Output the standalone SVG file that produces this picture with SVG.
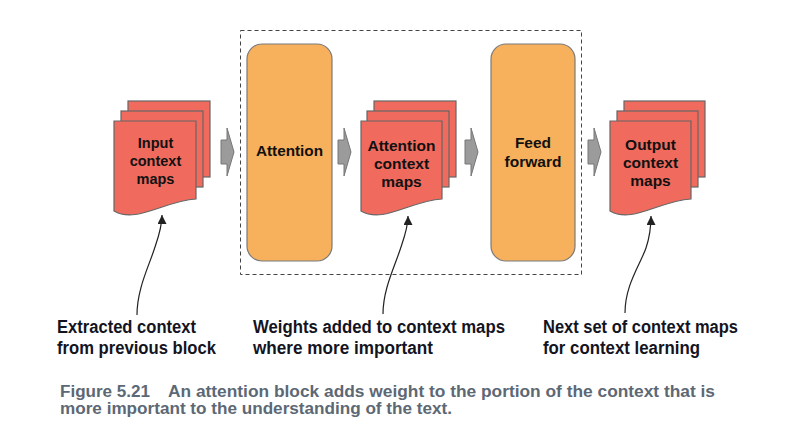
<svg xmlns="http://www.w3.org/2000/svg" width="803" height="426" viewBox="0 0 803 426">
  <style>
    .sheet { fill: #f06b5e; stroke: #666666; stroke-width: 1.2; }
    .block { fill: #f7b05b; stroke: #7a7a7a; stroke-width: 1.2; }
    .flow { fill: #9b9b9b; stroke: #777777; stroke-width: 1; }
    .node-text { font-family: "Liberation Sans", Arial, sans-serif; font-weight: bold; fill: #111111; text-anchor: middle; }
    .label { font-family: "Liberation Sans", Arial, sans-serif; font-weight: bold; font-size: 17.5px; fill: #14141f; }
    .caption { font-family: "Liberation Sans", Arial, sans-serif; font-weight: bold; font-size: 16px; fill: #5d6875; }
    .pointer { fill: none; stroke: #222222; stroke-width: 1.2; }
  </style>
  <defs>
    <marker id="head" viewBox="0 0 10 10" refX="10" refY="5" markerWidth="9" markerHeight="9" markerUnits="userSpaceOnUse" orient="auto">
      <path d="M0,0 L10,5 L0,10 Z" fill="#222222"/>
    </marker>
  </defs>
  <rect width="803" height="426" fill="#ffffff"/>

  <!-- dashed container -->
  <rect id="block-container" x="240.5" y="30.5" width="341" height="244" fill="none" stroke="#444444" stroke-width="1" stroke-dasharray="4,3"/>

  <g id="input-maps">
    <rect class="sheet" x="128" y="101" width="82" height="76"/>
    <rect class="sheet" x="121" y="111" width="82" height="76"/>
    <path class="sheet" d="M114,121 H196 V199 C164,201 136,224 114,211 Z"/>
    <text class="node-text" font-size="14.5" x="155.5" y="148">Input</text>
    <text class="node-text" font-size="14.5" x="155.5" y="166">context</text>
    <text class="node-text" font-size="14.5" x="155.5" y="184">maps</text>
  </g>

  <g id="attention">
    <rect class="block" x="247" y="44" width="85" height="217" rx="15" ry="15"/>
    <text class="node-text" font-size="15.3" x="289.5" y="156">Attention</text>
  </g>

  <g id="attention-maps">
    <rect class="sheet" x="374" y="101" width="82" height="76"/>
    <rect class="sheet" x="367" y="111" width="82" height="76"/>
    <path class="sheet" d="M361,121 H442 V199 C410,201 383,224 361,211 Z"/>
    <text class="node-text" font-size="15.5" x="401.5" y="151">Attention</text>
    <text class="node-text" font-size="15.5" x="401.5" y="169">context</text>
    <text class="node-text" font-size="15.5" x="401.5" y="187">maps</text>
  </g>

  <g id="feed-forward">
    <rect class="block" x="491" y="44" width="84" height="217" rx="15" ry="15"/>
    <text class="node-text" font-size="15.5" x="533" y="148">Feed</text>
    <text class="node-text" font-size="15.5" x="533" y="167">forward</text>
  </g>

  <g id="output-maps">
    <rect class="sheet" x="624" y="101" width="81" height="76"/>
    <rect class="sheet" x="617" y="111" width="81" height="76"/>
    <path class="sheet" d="M610,121 H691 V199 C659,201 632,224 610,211 Z"/>
    <text class="node-text" font-size="15.5" x="650.5" y="150">Output</text>
    <text class="node-text" font-size="15.5" x="650.5" y="168">context</text>
    <text class="node-text" font-size="15.5" x="650.5" y="186">maps</text>
  </g>

  <g id="connectors">
    <path class="flow" d="M221,140 H227 V128 L234,152 L227,176 V164 H221 Z"/>
    <path class="flow" d="M338,140 H344 V128 L351,152 L344,176 V164 H338 Z"/>
    <path class="flow" d="M465,140 H471 V128 L478,152 L471,176 V164 H465 Z"/>
    <path class="flow" d="M588,140 H594 V128 L601,152 L594,176 V164 H588 Z"/>
    <path class="pointer" marker-end="url(#head)" d="M137,315 C137,290 148,268 154,250 C158,238 162,228 162,215"/>
    <path class="pointer" marker-end="url(#head)" d="M383,314 C383,290 394,268 400,250 C404,238 408,228 408,216"/>
    <path class="pointer" marker-end="url(#head)" d="M625,313 C625,285 640,265 646,248 C650,236 651,226 651,216"/>
  </g>

  <g id="labels">
    <text class="label" x="57" y="333" textLength="139" lengthAdjust="spacingAndGlyphs">Extracted context</text>
    <text class="label" x="57" y="354" textLength="159" lengthAdjust="spacingAndGlyphs">from previous block</text>
    <text class="label" x="253" y="333" textLength="252" lengthAdjust="spacingAndGlyphs">Weights added to context maps</text>
    <text class="label" x="253" y="354" textLength="180" lengthAdjust="spacingAndGlyphs">where more important</text>
    <text class="label" x="543" y="333" textLength="195" lengthAdjust="spacingAndGlyphs">Next set of context maps</text>
    <text class="label" x="543" y="354" textLength="157" lengthAdjust="spacingAndGlyphs">for context learning</text>
  </g>

  <g id="caption">
    <text class="caption" x="60" y="397" textLength="90" lengthAdjust="spacingAndGlyphs">Figure 5.21</text>
    <text class="caption" x="168" y="397" textLength="547" lengthAdjust="spacingAndGlyphs">An attention block adds weight to the portion of the context that is</text>
    <text class="caption" x="60" y="414" textLength="392" lengthAdjust="spacingAndGlyphs">more important to the understanding of the text.</text>
  </g>
</svg>
